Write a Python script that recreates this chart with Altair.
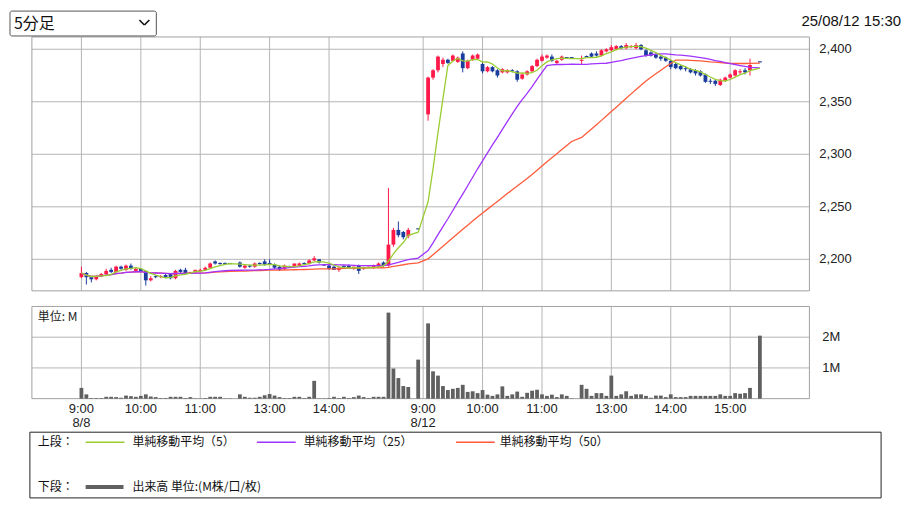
import altair as alt
import pandas as pd

# ---------------- data ----------------
def to_min(t):
    h, m = t.split(":")
    return int(h) * 60 + int(m) - 540

def session(start, end):
    return [f"{(540 + m) // 60}:{(540 + m) % 60:02d}" for m in range(to_min(start), to_min(end) + 1, 5)]

def slot_of(day, t):
    m = to_min(t)
    s = m // 5 if m <= 150 else (m - 60) // 5 + 2
    return day * 69 + s

d1_times = session("9:00", "11:30") + session("12:30", "15:20") + ["15:30"]
d1_open = [2183, 2187, 2183, 2181, 2184, 2186, 2190, 2188, 2193, 2190, 2194, 2189, 2191, 2189, 2180, 2184,
           2183, 2185, 2186, 2182, 2190, 2190, 2187, 2188, 2189, 2190, 2192, 2198, 2196, 2196, 2196,
           2197, 2192, 2194, 2193, 2196, 2198, 2196, 2195, 2193, 2191, 2193, 2193, 2194, 2196, 2196, 2199,
           2200, 2195, 2194, 2193, 2190, 2193, 2194, 2191, 2194, 2191, 2192, 2192, 2193, 2197, 2194, 2214,
           2228, 2226, 2222, 2229]
d1_high = [2193, 2188, 2184, 2185, 2187, 2191, 2192, 2194, 2194, 2195, 2196, 2192, 2191, 2189, 2184, 2185,
           2185, 2186, 2186, 2190, 2191, 2192, 2188, 2190, 2191, 2193, 2197, 2199, 2197, 2197, 2196,
           2198, 2195, 2195, 2197, 2197, 2200, 2200, 2196, 2194, 2195, 2194, 2196, 2197, 2197, 2200, 2203,
           2200, 2195, 2195, 2194, 2193, 2194, 2195, 2193, 2195, 2193, 2193, 2195, 2197, 2198, 2268, 2230,
           2236, 2227, 2230, 2229]
d1_low = [2182, 2176, 2178, 2180, 2183, 2185, 2187, 2187, 2190, 2189, 2190, 2188, 2188, 2175, 2179, 2182,
          2182, 2182, 2181, 2181, 2187, 2187, 2186, 2187, 2188, 2189, 2191, 2195, 2195, 2195, 2196,
          2192, 2191, 2192, 2192, 2195, 2194, 2195, 2191, 2189, 2190, 2192, 2192, 2193, 2195, 2195, 2198,
          2196, 2194, 2190, 2190, 2188, 2192, 2191, 2190, 2186, 2190, 2192, 2191, 2192, 2193, 2193, 2212,
          2221, 2219, 2220, 2229]
d1_close = [2187, 2183, 2181, 2184, 2186, 2189, 2188, 2193, 2191, 2194, 2191, 2191, 2189, 2180, 2182, 2183,
            2184, 2183, 2182, 2189, 2188, 2187, 2188, 2190, 2190, 2192, 2196, 2196, 2196, 2196, 2196,
            2193, 2194, 2193, 2196, 2196, 2195, 2196, 2192, 2190, 2194, 2193, 2196, 2196, 2196, 2199, 2201,
            2197, 2194, 2191, 2190, 2192, 2193, 2192, 2193, 2189, 2192, 2193, 2194, 2196, 2194, 2214, 2228,
            2223, 2221, 2228, 2229]
d1_vol = [0.35, 0.14, 0.02, 0.02, 0.02, 0.06, 0.06, 0.05, 0.03, 0.10, 0.08, 0.06, 0.09, 0.14, 0.07, 0.05,
          0.02, 0.02, 0.06, 0.06, 0.06, 0.02, 0.05, 0.01, 0.01, 0.02, 0.06, 0.06, 0.06, 0.01, 0.01,
          0.14, 0.06, 0.03, 0.03, 0.06, 0.11, 0.15, 0.10, 0.05, 0.02, 0.02, 0.06, 0.06, 0.02, 0.06, 0.58,
          0.01, 0.01, 0.02, 0.06, 0.02, 0.06, 0.02, 0.05, 0.10, 0.05, 0.02, 0.06, 0.06, 0.06, 2.80, 0.98,
          0.67, 0.41, 0.38, 1.27]

d2_times = session("9:05", "11:30") + session("12:30", "15:20") + ["15:30"]
d2_open = [2338, 2373, 2380, 2386, 2390, 2389, 2388, 2396, 2382, 2390, 2391, 2386, 2379, 2383, 2380, 2378,
           2378, 2380, 2379, 2372, 2376, 2379, 2384, 2389, 2392, 2393, 2387, 2390, 2392, 2392,
           2389, 2393, 2396, 2396, 2394, 2398, 2399, 2400, 2403, 2401, 2402, 2401, 2404, 2399, 2397, 2395,
           2393, 2392, 2389, 2386, 2384, 2382, 2381, 2380, 2379, 2376, 2370, 2370, 2366, 2370, 2373, 2375,
           2378, 2380, 2380, 2388]
d2_high = [2374, 2381, 2394, 2392, 2391, 2395, 2393, 2398, 2390, 2395, 2396, 2388, 2384, 2384, 2381, 2382,
           2381, 2381, 2380, 2377, 2380, 2385, 2391, 2395, 2395, 2395, 2390, 2394, 2392, 2392,
           2394, 2394, 2397, 2398, 2400, 2401, 2404, 2404, 2404, 2406, 2404, 2406, 2405, 2400, 2398, 2396,
           2394, 2393, 2390, 2387, 2385, 2384, 2382, 2381, 2380, 2377, 2372, 2371, 2372, 2374, 2377, 2381,
           2381, 2382, 2391, 2388]
d2_low = [2332, 2371, 2378, 2383, 2386, 2388, 2387, 2378, 2381, 2389, 2390, 2377, 2378, 2378, 2373, 2377,
          2377, 2378, 2369, 2371, 2375, 2378, 2383, 2388, 2391, 2388, 2386, 2389, 2392, 2392,
          2386, 2392, 2392, 2393, 2393, 2397, 2398, 2399, 2400, 2400, 2401, 2400, 2399, 2393, 2393, 2391,
          2389, 2388, 2381, 2381, 2380, 2379, 2377, 2375, 2374, 2368, 2367, 2365, 2365, 2369, 2372, 2374,
          2376, 2376, 2375, 2388]
d2_close = [2373, 2380, 2393, 2390, 2387, 2394, 2392, 2382, 2389, 2394, 2395, 2379, 2383, 2379, 2375, 2381,
            2380, 2379, 2371, 2376, 2379, 2384, 2390, 2393, 2394, 2389, 2389, 2393, 2392, 2392,
            2390, 2393, 2393, 2394, 2399, 2400, 2402, 2403, 2401, 2404, 2403, 2404, 2400, 2394, 2394, 2392,
            2391, 2389, 2383, 2382, 2381, 2381, 2378, 2377, 2375, 2369, 2369, 2367, 2371, 2373, 2376, 2380,
            2379, 2378, 2385, 2388]
d2_vol = [2.45, 0.89, 0.75, 0.41, 0.28, 0.32, 0.35, 0.45, 0.22, 0.24, 0.18, 0.28, 0.13, 0.09, 0.14, 0.40,
          0.09, 0.14, 0.23, 0.06, 0.19, 0.26, 0.29, 0.14, 0.09, 0.13, 0.05, 0.14, 0.09, 0.01,
          0.45, 0.32, 0.09, 0.18, 0.18, 0.09, 0.75, 0.09, 0.14, 0.24, 0.09, 0.14, 0.14, 0.09, 0.03, 0.10,
          0.10, 0.05, 0.14, 0.05, 0.05, 0.05, 0.09, 0.09, 0.09, 0.09, 0.09, 0.09, 0.14, 0.09, 0.09, 0.18,
          0.16, 0.18, 0.35, 2.05]

price_ticks = [2200, 2250, 2300, 2350, 2400]
price_labels = ["2,200", "2,250", "2,300", "2,350", "2,400"]
vol_ticks = [1, 2]
vol_labels = ["1M", "2M"]
tick_day = [0, 0, 0, 0, 0, 1, 1, 1, 1, 1, 1]
tick_time = ["9:00", "10:00", "11:00", "13:00", "14:00", "9:00", "10:00", "11:00", "13:00", "14:00", "15:00"]
tick_date = ["8/8", "", "", "", "", "8/12", "", "", "", "", ""]
legend_labels = ["単純移動平均（5）", "単純移動平均（25）", "単純移動平均（50）"]
volume_legend = "出来高 単位:(M株/口/枚)"
period_label = "5分足"
stamp_label = "25/08/12 15:30"

rows = []
for day, (ts, o, h, l, c, v) in enumerate([(d1_times, d1_open, d1_high, d1_low, d1_close, d1_vol),
                                            (d2_times, d2_open, d2_high, d2_low, d2_close, d2_vol)]):
    for i, t in enumerate(ts):
        rows.append(dict(day=day, time=t, slot=slot_of(day, t), open=o[i], high=h[i],
                         low=l[i], close=c[i], vol=v[i]))
df = pd.DataFrame(rows)
ticks_df = pd.DataFrame({"slot": [slot_of(d, t) for d, t in zip(tick_day, tick_time)],
                         "time": tick_time, "date": tick_date})
pt_df = pd.DataFrame({"p": price_ticks, "lab": price_labels})
vt_df = pd.DataFrame({"v": vol_ticks, "lab": vol_labels})
one = pd.DataFrame({"k": [0]})

# ---------------- style ----------------
W, H = 898, 492
RED = "#ff1a4a"
BLUE = "#1a3c9c"
GREEN = "#9acd32"
PURPLE = "#a033ff"
ORANGE = "#ff5a3a"
VOLC = "#606060"
GRID = "#b4b4b4"
JP = "Noto Sans CJK JP"
LAT = "Liberation Sans"

xs = alt.Scale(domain=[-10, 147], range=[24, 805], nice=False, zero=False)
ysp = alt.Scale(domain=[2170, 2411.7], range=[283, 28], nice=False, zero=False)
ysv = alt.Scale(domain=[0, 3], range=[391.3, 298.7], nice=False, zero=False)
X = alt.X("slot:Q", scale=xs, axis=None)
col = alt.condition("datum.close > datum.open", alt.value(RED), alt.value(BLUE))

# ---------------- price panel ----------------
p_hgrid = alt.Chart(pt_df).mark_rule(color=GRID, strokeWidth=1).encode(
    y=alt.Y("p:Q", scale=ysp, axis=None), x=alt.value(24), x2=alt.value(805))
p_lab = alt.Chart(pt_df).mark_text(align="left", baseline="middle", font=LAT, fontSize=13, color="#222").encode(
    y=alt.Y("p:Q", scale=ysp, axis=None), x=alt.value(815), text="lab:N")
p_vgrid = alt.Chart(ticks_df).mark_rule(color=GRID, strokeWidth=1).encode(
    x=X, y=alt.value(28), y2=alt.value(283))
p_box = alt.Chart(one).mark_rect(fillOpacity=0, stroke="#a0a0a0", strokeWidth=1).encode(
    x=alt.value(24), x2=alt.value(805), y=alt.value(28), y2=alt.value(283))

base = alt.Chart(df)
wick = base.mark_rule(strokeWidth=1).encode(
    x=X, y=alt.Y("low:Q", scale=ysp, axis=None), y2="high:Q", color=col)
body = base.mark_rule(strokeWidth=3.8, strokeCap="butt").encode(
    x=X, y=alt.Y("open:Q", scale=ysp, axis=None), y2="close:Q", color=col)
doji = base.transform_filter("datum.open == datum.close").transform_calculate(
    xl="datum.slot - 0.38", xr="datum.slot + 0.38").mark_rule(strokeWidth=1.2).encode(
    x=alt.X("xl:Q", scale=xs, axis=None), x2="xr:Q", y=alt.Y("close:Q", scale=ysp, axis=None), color=col)

ma = base.transform_window(sma5="mean(close)", frame=[-4, 0], sort=[alt.SortField("slot")]) \
    .transform_window(sma25="mean(close)", frame=[-24, 0], sort=[alt.SortField("slot")]) \
    .transform_window(sma50="mean(close)", frame=[-49, 0], sort=[alt.SortField("slot")])
l5 = ma.mark_line(color=GREEN, strokeWidth=1.3).encode(x=X, y=alt.Y("sma5:Q", scale=ysp, axis=None))
l25 = ma.mark_line(color=PURPLE, strokeWidth=1.3).encode(x=X, y=alt.Y("sma25:Q", scale=ysp, axis=None))
l50 = ma.mark_line(color=ORANGE, strokeWidth=1.3).encode(x=X, y=alt.Y("sma50:Q", scale=ysp, axis=None))

price = alt.layer(p_hgrid, p_vgrid, p_box, p_lab, wick, body, doji, l50, l25, l5)

# ---------------- volume panel ----------------
v_hgrid = alt.Chart(vt_df).mark_rule(color=GRID, strokeWidth=1).encode(
    y=alt.Y("v:Q", scale=ysv, axis=None), x=alt.value(24), x2=alt.value(805))
v_lab = alt.Chart(vt_df).mark_text(align="left", baseline="middle", font=LAT, fontSize=13, color="#222").encode(
    y=alt.Y("v:Q", scale=ysv, axis=None), x=alt.value(818), text="lab:N")
v_vgrid = alt.Chart(ticks_df).mark_rule(color=GRID, strokeWidth=1).encode(
    x=X, y=alt.value(298.7), y2=alt.value(391.3))
v_box = alt.Chart(one).mark_rect(fillOpacity=0, stroke="#a0a0a0", strokeWidth=1).encode(
    x=alt.value(24), x2=alt.value(805), y=alt.value(298.7), y2=alt.value(391.3))
v_bars = alt.Chart(df).mark_rule(strokeWidth=3.8, strokeCap="butt", color=VOLC).encode(
    x=X, y=alt.Y("vol:Q", scale=ysv, axis=None), y2=alt.datum(0))
v_unit = alt.Chart(one).mark_text(align="left", baseline="middle", font=JP, fontSize=12, color="#222").encode(
    x=alt.value(30), y=alt.value(309), text=alt.value("単位: M"))
x_time = alt.Chart(ticks_df).mark_text(baseline="middle", font=LAT, fontSize=13, color="#222").encode(
    x=X, y=alt.value(402), text="time:N")
x_date = alt.Chart(ticks_df).mark_text(baseline="middle", font=LAT, fontSize=13, color="#222").encode(
    x=X, y=alt.value(416), text="date:N")

vol = alt.layer(v_hgrid, v_vgrid, v_box, v_bars, v_lab, v_unit, x_time, x_date)

# ---------------- header & legend ----------------
def txt(s, x, y, size=12, font=JP, align="left", color="#111"):
    return alt.Chart(one).mark_text(align=align, baseline="middle", font=font, fontSize=size, color=color).encode(
        x=alt.value(x), y=alt.value(y), text=alt.value(s))

def seg(x1, x2, y1, y2, color, w):
    return alt.Chart(one).mark_rule(color=color, strokeWidth=w).encode(
        x=alt.value(x1), x2=alt.value(x2), y=alt.value(y1), y2=alt.value(y2))

sel_box = alt.Chart(one).mark_rect(fill="white", stroke="#555", strokeWidth=1, cornerRadius=2).encode(
    x=alt.value(2), x2=alt.value(149), y=alt.value(2), y2=alt.value(27))
header = [sel_box, txt(period_label, 6, 14.5, size=16),
          seg(132, 137, 11, 16, "#111", 1.6), seg(137, 142, 16, 11, "#111", 1.6),
          txt(stamp_label, 897, 12, size=15, font=LAT, align="right")]

leg_box = alt.Chart(one).mark_rect(fill="white", stroke="#222", strokeWidth=1).encode(
    x=alt.value(22), x2=alt.value(877), y=alt.value(425), y2=alt.value(H - 1))
legend = [leg_box,
          txt("上段：", 30, 435),
          seg(78, 117, 435, 435, GREEN, 1.5), txt(legend_labels[0], 125, 435),
          seg(250, 289, 435, 435, PURPLE, 1.5), txt(legend_labels[1], 297, 435),
          seg(450, 489, 435, 435, ORANGE, 1.5), txt(legend_labels[2], 494, 435),
          txt("下段：", 30, 480),
          seg(78, 116, 480, 480, VOLC, 4), txt(volume_legend, 125, 480)]

deco = alt.layer(*header, *legend)

chart = alt.layer(price, vol, deco).resolve_scale(y="independent").properties(
    width=W, height=H, autosize=alt.AutoSizeParams(type="none"), padding=0,
    background="white").configure_view(stroke=None)

chart.save("out.html", embed_options={"renderer": "svg", "actions": False})
